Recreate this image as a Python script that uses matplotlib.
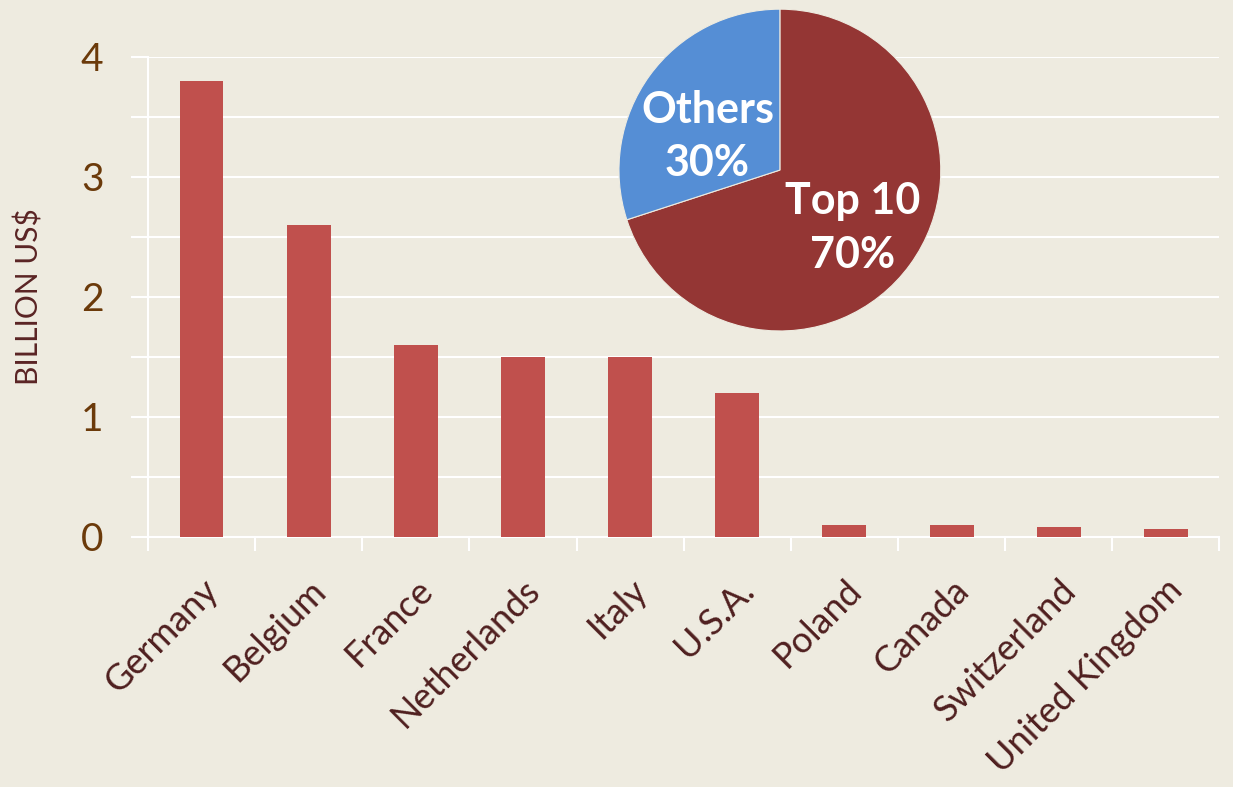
import matplotlib.pyplot as plt
import numpy as np

countries = ["Germany", "Belgium", "France", "Netherlands", "Italy", "U.S.A.",
             "Poland", "Canada", "Switzerland", "United Kingdom"]
values = [3.8, 2.6, 1.6, 1.5, 1.5, 1.2, 0.1, 0.1, 0.08, 0.07]

pie_labels = ["Top 10\n70%", "Others\n30%"]
pie_shares = [70, 30]

bg = "#EEEBE0"
plt.rcParams['font.family'] = ['Lato', 'DejaVu Sans']

fig = plt.figure(figsize=(12.33, 7.87), dpi=100)
fig.patch.set_facecolor(bg)

ax = fig.add_axes([0.12, 0.3177, 0.869, 0.61])
ax.set_facecolor(bg)
x = np.arange(len(countries))
ax.bar(x, values, width=0.41, color="#C0504D", zorder=3)

ax.set_xlim(-0.5, len(countries) - 0.5)
ax.set_ylim(0, 4)
ax.set_yticks(np.arange(0, 4.01, 0.5))
ax.set_yticklabels(["0", "", "1", "", "2", "", "3", "", "4"])
ax.grid(axis="y", color="white", linewidth=1.5, zorder=0)
ax.tick_params(axis="y", length=12, color="white", width=1.5, labelsize=28,
               labelcolor="#6B3A0A", pad=20)

ax.set_xticks(x)
ax.set_xticklabels(countries, rotation=45, ha="right", rotation_mode="anchor",
                   fontsize=26, color="#4F1F1F")
ax.set_xticks(np.arange(-0.5, len(countries), 1), minor=True)
ax.tick_params(axis="x", which="major", length=0, pad=26)
ax.tick_params(axis="x", which="minor", length=10, color="white", width=1.5)

for s in ["top", "right"]:
    ax.spines[s].set_visible(False)
ax.spines["left"].set_color("white")
ax.spines["left"].set_linewidth(1.5)
ax.spines["bottom"].set_color("white")
ax.spines["bottom"].set_linewidth(1.5)

ax.set_ylabel("BILLION US$", fontsize=21.5, color="#5A2424", labelpad=27)

# inset pie
pax = fig.add_axes([0.502, 0.5794, 0.261, 0.409])
wedges, texts = pax.pie(pie_shares, colors=["#943634", "#558ED5"], startangle=90,
                        counterclock=False, radius=1.0,
                        wedgeprops=dict(linewidth=0.8, edgecolor="#EEEBE0"))
pax.set_xlim(-1.0, 1.0)
pax.set_ylim(-1.0, 1.0)
pax.text(0.45, -0.36, pie_labels[0], ha="center", va="center", fontsize=31,
         fontweight="bold", color="white", linespacing=1.4)
pax.text(-0.45, 0.21, pie_labels[1], ha="center", va="center", fontsize=31,
         fontweight="bold", color="white", linespacing=1.4)
pax.set_aspect("equal")

fig.savefig("out.png", dpi=100, facecolor=bg)
